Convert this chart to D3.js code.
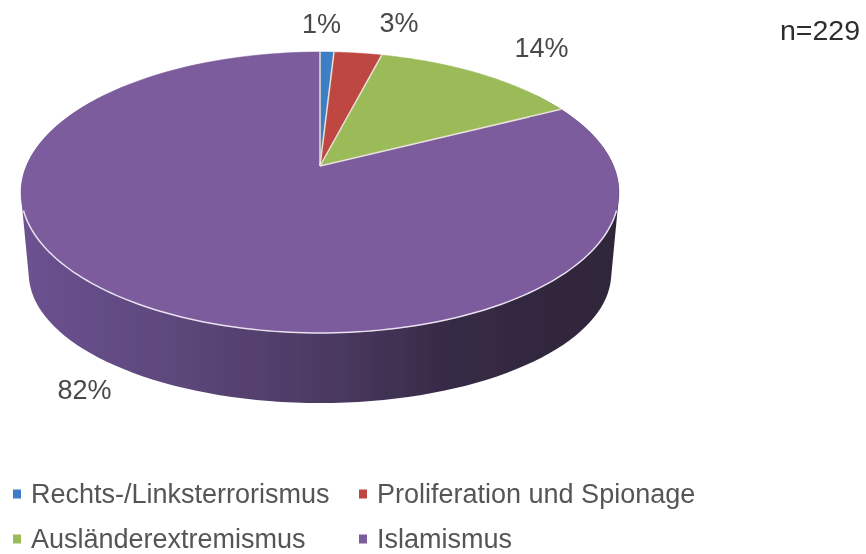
<!DOCTYPE html>
<html><head><meta charset="utf-8">
<script src="https://cdn.jsdelivr.net/npm/d3@7"></script>
<style>html,body{margin:0;padding:0;background:#fff}svg{display:block}text{font-family:"Liberation Sans",Arial,sans-serif}</style>
</head><body><svg id="c" width="866" height="554"></svg>
<script>
const categories = ["Rechts-/Linksterrorismus","Proliferation und Spionage","Ausländerextremismus","Islamismus"];
const shares = [0.9, 3.1, 13.5, 82.5];
const percentLabels = ["1%","3%","14%","82%"];
const colors = ["#3d7fc6","#be4643","#9bbb59","#7b5c9c"];
const sampleSize = "n=229";

const svg = d3.select("#c");
const defs = svg.append("defs");
const blur = defs.append("filter").attr("id","soft").attr("x","-5%").attr("y","-5%").attr("width","110%").attr("height","110%");
blur.append("feGaussianBlur").attr("stdDeviation",0.5);
const grad = defs.append("linearGradient").attr("id","side").attr("gradientUnits","userSpaceOnUse")
  .attr("x1",22).attr("x2",620).attr("y1",0).attr("y2",0);
[[0,"#6b5290"],[0.2,"#604a80"],[0.5,"#4c3a63"],[0.72,"#362a45"],[1,"#2f2539"]].forEach(s=>grad.append("stop").attr("offset",s[0]).attr("stop-color",s[1]));

const k = -0.1886;
const project = (cx,cy,rx,ry) => a => {
  const x = Math.sin(a), z = -Math.cos(a), d = 1 + k*z;
  return [cx + rx*x/d, cy + ry*z/d];
};
const topRim = project(320,166,293.6,135.5);
const baseRim = project(320,249,286,125);
const angles = (a0,a1) => d3.range(0,121).map(i => a0 + (a1-a0)*i/120);
const line = d3.line();
const rad = d => d*Math.PI/180;

const arcs = d3.pie().sort(null).value(d=>d)(shares);
const g = svg.append("g").attr("filter","url(#soft)");

// side wall: silhouette of the lower half of both rims
const wall = angles(rad(55),rad(305)).flatMap(a=>[topRim(a),baseRim(a)]);
g.append("path").attr("d",line(d3.polygonHull(wall))+"Z").attr("fill","url(#side)");

// top face
g.selectAll("path.slice").data(arcs).join("path").attr("class","slice")
  .attr("fill",(d,i)=>colors[i]).attr("stroke",(d,i)=>colors[i]).attr("stroke-width",0.5)
  .attr("d",d=>line([[320,166],...angles(d.startAngle,d.endAngle).map(topRim)])+"Z");

// pale separators
g.selectAll("path.sep").data(arcs).join("path").attr("class","sep")
  .attr("fill","none").attr("stroke","#e8e2d8").attr("stroke-width",1.5)
  .attr("d",d=>line([[320,166],topRim(d.startAngle)]));
g.append("path").attr("fill","none").attr("stroke","#e9e1f0").attr("stroke-width",1.5)
  .attr("d",line(angles(rad(108),rad(252)).map(topRim)));

// percent labels
const labelPos = [[321.5,33],[399,32],[541.5,57],[84.5,399]];
g.selectAll("text.pct").data(percentLabels).join("text").attr("class","pct")
  .attr("x",(d,i)=>labelPos[i][0]).attr("y",(d,i)=>labelPos[i][1])
  .attr("text-anchor","middle").attr("font-size",27).attr("fill","#484848").text(d=>d);

g.append("text").attr("x",820).attr("y",40).attr("text-anchor","middle").attr("font-size",28.5).attr("fill","#2e2e2e").text(sampleSize);

// legend
const legendPos = [[31,503],[377,503],[31,548],[377,548]];
const leg = g.selectAll("g.l").data(categories).join("g").attr("class","l")
  .attr("transform",(d,i)=>`translate(${legendPos[i][0]},${legendPos[i][1]})`);
leg.append("rect").attr("x",-18).attr("y",-13.5).attr("width",8).attr("height",9).attr("fill",(d,i)=>colors[i]);
leg.append("text").attr("x",0).attr("y",0).attr("font-size",27).attr("fill","#555").text(d=>d);
</script></body></html>
